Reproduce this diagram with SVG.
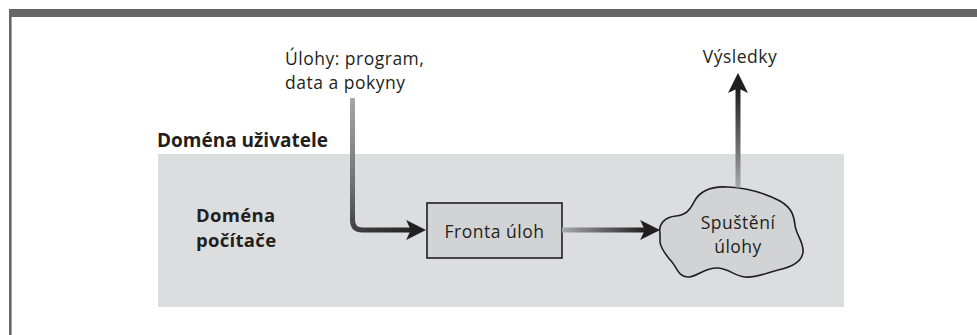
<svg xmlns="http://www.w3.org/2000/svg" width="977" height="335" viewBox="0 0 977 335">
<style>
text{font-family:"Open Sans","Liberation Sans",sans-serif;fill:#231f20;}
.t{font-size:17.5px;letter-spacing:0.5px;}
.b{font-size:18.5px;font-weight:bold;letter-spacing:0.3px;}
.node{fill:#d2d3d5;stroke:#231f20;stroke-width:1.6;}
.conn{fill:none;stroke-width:5;}
</style>
<defs>
<marker id="ah" markerUnits="userSpaceOnUse" markerWidth="20" markerHeight="20" viewBox="0 0 17 17" refX="5" refY="8.5" orient="auto">
<path d="M0,0 L17,8.5 L0,17 L4,8.5 Z" fill="#231f20"/>
</marker>
<linearGradient id="g1" gradientUnits="userSpaceOnUse" x1="352" y1="98" x2="410" y2="236">
<stop offset="0" stop-color="#a7a8aa"/>
<stop offset="0.55" stop-color="#6d6e70"/>
<stop offset="1" stop-color="#231f20"/>
</linearGradient>
<linearGradient id="g2" gradientUnits="userSpaceOnUse" x1="562" y1="0" x2="645" y2="0">
<stop offset="0" stop-color="#a7a8aa"/>
<stop offset="1" stop-color="#231f20"/>
</linearGradient>
<linearGradient id="g3" gradientUnits="userSpaceOnUse" x1="0" y1="188" x2="0" y2="90">
<stop offset="0" stop-color="#a7a8aa"/>
<stop offset="1" stop-color="#231f20"/>
</linearGradient>
</defs>
<rect width="977" height="335" fill="#ffffff"/>
<g id="frame">
<rect x="9" y="9" width="968" height="8" fill="#666666"/>
<rect x="9" y="9" width="2.6" height="326" fill="#666666"/>
</g>
<g id="domain-computer">
<rect x="158" y="154" width="686" height="153" fill="#dcdddf"/>
<text class="b" x="196" y="221.5"><tspan x="196" y="221.5">Doména</tspan><tspan x="196" y="247">počítače</tspan></text>
</g>
<g id="domain-user">
<text class="b" x="157" y="147" style="font-size:19px;letter-spacing:0">Doména uživatele</text>
</g>
<g id="input">
<text class="t" x="285" y="65"><tspan x="285" y="65">Úlohy: program,</tspan><tspan x="285" y="89">data a pokyny</tspan></text>
</g>
<g id="results">
<text class="t" x="740" y="63" text-anchor="middle">Výsledky</text>
</g>
<g id="queue">
<rect class="node" x="427" y="203" width="135" height="55"/>
<text class="t" x="494.5" y="238" text-anchor="middle">Fronta úloh</text>
</g>
<g id="run">
<path class="node" d="M660,234 C658,224 665,217 676,216 C686,215 690,210 694,202 C700,190 712,186 728,187 C745,188 765,193 780,201 C792,208 794,216 795,225 C796,235 804,242 803,252 C802,262 792,267 778,270 C766,273 757,278 745,277 C734,276 730,269 718,268 C706,267 698,276 689,277 C679,278 677,268 672,262 C667,256 661,250 660,242 Z"/>
<text class="t" x="738" y="229" text-anchor="middle"><tspan x="738" y="229">Spuštění</tspan><tspan x="738" y="253">úlohy</tspan></text>
</g>
<g id="connectors">
<path class="conn" stroke="url(#g1)" d="M352.5,98 V220 Q352.5,230 362.5,230 H412" marker-end="url(#ah)"/>
<path class="conn" stroke="url(#g2)" d="M562,230 H646" marker-end="url(#ah)"/>
<path class="conn" stroke="url(#g3)" d="M738,187.5 V87" marker-end="url(#ah)"/>
</g>
</svg>
